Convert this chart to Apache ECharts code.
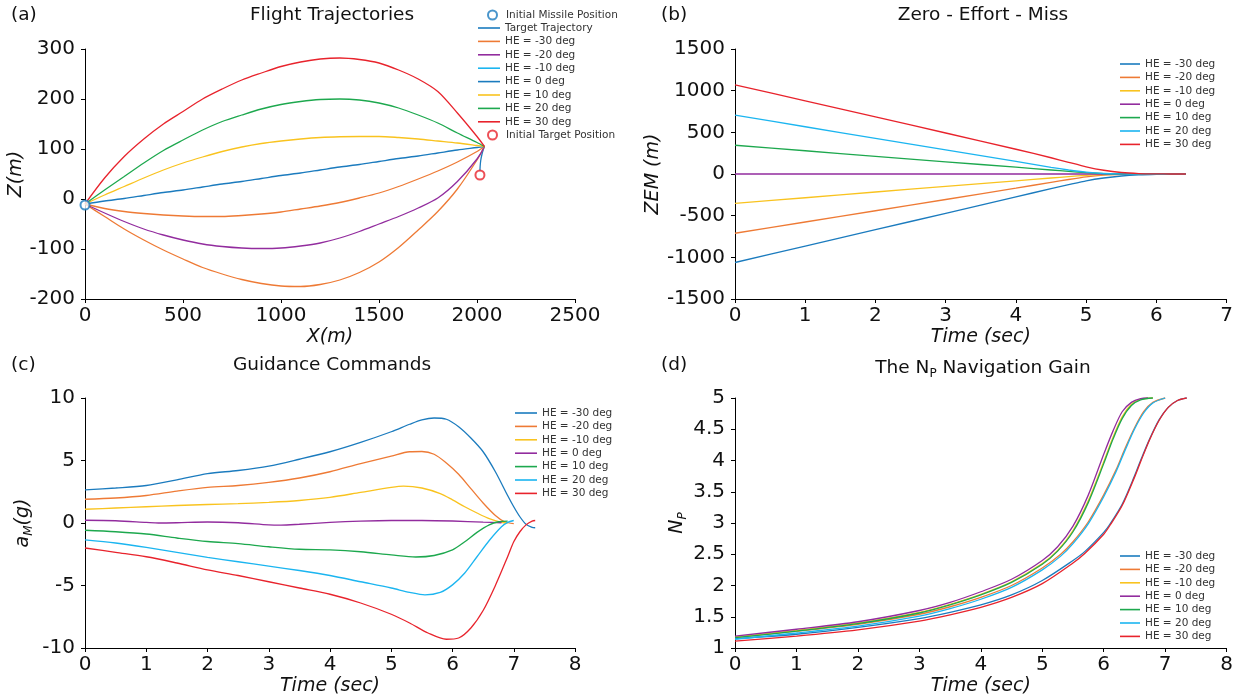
<!DOCTYPE html>
<html><head><meta charset="utf-8">
<script src="https://cdn.jsdelivr.net/npm/echarts@6/dist/echarts.min.js"></script>
<style>html,body{margin:0;padding:0;background:#fff}#c{width:1236px;height:700px}</style>
</head><body><div id="c"></div>
<script>
// ---------- Colours ----------
const BLUE='#1B7BBE', ORANGE='#EE7A35', YELLOW='#F9C31F', PURPLE='#922C9E', GREEN='#1DA84E', LBLUE='#1BB5F0', RED='#E8232C';

const heNames = ['HE = -30 deg','HE = -20 deg','HE = -10 deg','HE = 0 deg','HE = 10 deg','HE = 20 deg','HE = 30 deg'];

// ---------- (a) Flight Trajectories ----------
const trajX   = [0,100,200,300,400,500,600,700,800,900,1000,1100,1200,1300,1400,1500,1600,1700,1800,1900,2000,2038];
const zHEm30  = [-10,-35,-60,-82,-102,-120,-137,-150,-161,-169,-174,-175,-171,-162,-147,-126,-97,-62,-25,20,78,105];
const zHEm20  = [-10,-28,-45,-60,-72,-82,-90,-95,-98,-99,-98,-94,-88,-78,-65,-50,-35,-18,2,35,80,105];
const zHEm10  = [-10,-19,-25,-29,-32,-34,-35,-35,-33,-30,-26,-20,-14,-7,2,12,25,40,56,74,95,105];
const zHE0    = [-10,-4,1,7,13,18,24,30,35,41,47,52,58,64,69,75,81,86,92,98,103,105];
const zHE10   = [-10,8,25,42,58,72,84,95,104,111,116,120,123,124.5,125,125,123,120,116,112,107,105];
const zHE20   = [-10,18,45,72,97,118,138,155,168,180,189,195,199,200,198,192,182,168,152,132,113,105];
const zHE30   = [-10,42,85,120,150,175,200,220,238,252,265,274,280,282,279,272,258,240,215,172,125,105];
const targetX = [2015,2016,2019,2025,2033,2038];
const targetZ = [55,65,77,89,100,105];
const missileStart = [0,-12];
const targetStart  = [2015,48];
const legendA = ['Target Trajectory'].concat(heNames);
const legendAColors = [BLUE, ORANGE, PURPLE, LBLUE, BLUE, YELLOW, GREEN, RED];

// ---------- (b) Zero-Effort-Miss ----------
const tB      = [0,1,2,3,4,4.5,4.75,5,5.25,5.5,5.75,6,6.2,6.42];
const zemM30  = [-1062,-865,-668,-472,-275,-175,-128,-82,-48,-24,-10,-3,-1,0];
const zemM20  = [-711,-576,-441,-306,-170,-100,-66,-35,-14,-4,-1,0,0,0];
const zemM10  = [-353,-285,-216,-148,-82,-48,-31,-16,-6,-1,0,0,0,0];
const zem0    = [0,0,0,0,0,0,0,0,0,0,0,0,0,0];
const zem10   = [345,279,212,146,82,48,31,16,5,1,0,0,0,0];
const zem20   = [707,567,428,290,152,80,48,22,6,1,0,0,0,0];
const zem30   = [1070,878,685,492,297,195,140,86,45,18,5,1,0,0];
const colorsB = [BLUE, ORANGE, YELLOW, PURPLE, GREEN, LBLUE, RED];

// ---------- (c) Guidance Commands ----------
const tCm30 = [0,0.5,1,1.5,2,2.5,3,3.5,4,4.5,5,5.3,5.5,5.7,5.9,6.1,6.3,6.5,6.7,6.9,7.0,7.1,7.2,7.3,7.35];
const aCm30 = [2.65,2.8,3.0,3.45,3.95,4.2,4.55,5.1,5.7,6.45,7.3,7.9,8.25,8.4,8.3,7.7,6.8,5.7,4.1,2.2,1.3,0.5,-0.1,-0.35,-0.38];
const tCm20 = [0,0.5,1,1.5,2,2.5,3,3.5,4,4.5,5,5.3,5.5,5.7,5.9,6.1,6.3,6.5,6.7,6.85,7.0];
const aCm20 = [1.9,2.0,2.2,2.55,2.85,3.0,3.25,3.6,4.1,4.75,5.35,5.7,5.72,5.5,4.8,3.9,2.75,1.6,0.6,0.1,-0.05];
const tCm10 = [0,0.5,1,1.5,2,2.5,3,3.5,4,4.5,5,5.2,5.5,5.8,6,6.2,6.4,6.6,6.8,6.9];
const aCm10 = [1.1,1.2,1.3,1.4,1.48,1.55,1.65,1.8,2.05,2.45,2.85,2.95,2.8,2.35,1.85,1.3,0.8,0.35,0.05,0];
const tC0   = [0,0.5,1,1.2,1.5,2,2.5,3,3.2,3.5,4,4.5,5,5.5,6,6.5,6.8];
const aC0   = [0.22,0.18,0.05,0.0,0.02,0.08,0.02,-0.15,-0.17,-0.1,0.05,0.15,0.2,0.2,0.16,0.07,0.02];
const tC10  = [0,0.5,1,1.5,2,2.5,3,3.5,4,4.5,5,5.4,5.7,6,6.2,6.4,6.6,6.75,6.9];
const aC10  = [-0.58,-0.7,-0.88,-1.2,-1.48,-1.65,-1.9,-2.1,-2.15,-2.3,-2.55,-2.72,-2.6,-2.15,-1.5,-0.75,-0.15,0.1,0.15];
const tC20  = [0,0.5,1,1.5,2,2.5,3,3.5,4,4.5,5,5.3,5.55,5.8,6,6.2,6.4,6.6,6.8,6.9,7.0];
const aC20  = [-1.35,-1.6,-1.95,-2.35,-2.75,-3.1,-3.45,-3.8,-4.2,-4.7,-5.2,-5.55,-5.75,-5.55,-4.95,-4.0,-2.7,-1.4,-0.3,0.05,0.2];
const tC30  = [0,0.5,1,1.5,2,2.5,3,3.5,4,4.5,5,5.3,5.6,5.9,6.1,6.3,6.5,6.7,6.9,7.0,7.1,7.2,7.3,7.35];
const aC30  = [-2.0,-2.35,-2.7,-3.2,-3.75,-4.2,-4.7,-5.2,-5.7,-6.4,-7.3,-8.0,-8.8,-9.3,-9.2,-8.4,-7.0,-5.0,-2.7,-1.5,-0.7,-0.15,0.15,0.2];

// ---------- (d) Navigation gain ----------
const tDm30 = [0,1,2,3,3.5,4,4.5,5,5.5,5.7,6,6.1,6.3,6.5,6.6,6.75,6.9,7.05,7.2,7.35];
const nDm30 = [1.15,1.22,1.33,1.47,1.57,1.69,1.85,2.08,2.4,2.55,2.85,2.98,3.3,3.75,4.0,4.35,4.65,4.85,4.96,5.0];
const tDm20 = [0,1,2,3,3.5,4,4.5,5,5.3,5.5,5.75,6,6.2,6.35,6.5,6.65,6.8,7.0];
const nDm20 = [1.17,1.27,1.38,1.54,1.66,1.81,2.0,2.28,2.5,2.7,3.02,3.45,3.85,4.2,4.52,4.78,4.93,5.0];
const tDm10 = [0,1,2,3,3.5,4,4.5,5,5.25,5.5,5.75,6,6.15,6.3,6.45,6.6,6.8];
const nDm10 = [1.175,1.28,1.40,1.57,1.70,1.86,2.06,2.35,2.56,2.88,3.36,3.98,4.37,4.7,4.9,4.98,5.0];
const tD0   = [0,1,2,3,3.5,4,4.5,5,5.25,5.5,5.75,6,6.15,6.3,6.45,6.6,6.72];
const nD0   = [1.19,1.3,1.42,1.6,1.73,1.9,2.1,2.4,2.62,2.95,3.45,4.1,4.47,4.78,4.93,4.99,5.0];
const tD10  = [0,1,2,3,3.5,4,4.5,5,5.25,5.5,5.75,6,6.15,6.3,6.45,6.6,6.8];
const nD10  = [1.165,1.27,1.39,1.56,1.69,1.85,2.05,2.34,2.55,2.86,3.33,3.95,4.34,4.67,4.88,4.97,5.0];
const tD20  = [0,1,2,3,3.5,4,4.5,5,5.3,5.5,5.75,6,6.2,6.35,6.5,6.65,6.8,7.0];
const nD20  = [1.14,1.24,1.35,1.51,1.63,1.78,1.97,2.25,2.47,2.67,2.99,3.42,3.82,4.17,4.5,4.76,4.92,5.0];
const tD30  = [0,1,2,3,3.5,4,4.5,5,5.5,5.7,6,6.1,6.3,6.5,6.6,6.75,6.9,7.05,7.2,7.35];
const nD30  = [1.11,1.19,1.29,1.43,1.53,1.65,1.81,2.03,2.36,2.52,2.82,2.96,3.28,3.73,3.98,4.34,4.64,4.85,4.96,5.0];

// ---------- build ----------
const FONT = 'DejaVu Sans';
const zip = (xs, ys) => xs.map((x, i) => [x, ys[i]]);

function lineSeries(name, color, xs, ys, idx, smooth) {
  return { type:'line', name, xAxisIndex:idx, yAxisIndex:idx, data:zip(xs, ys),
    symbol:'none', smooth: smooth, lineStyle:{color, width:1.3}, itemStyle:{color}, clip:false, z:3 };
}
function axis(idx, min, max, interval, name, nameGap, isX) {
  return { type:'value', gridIndex:idx, min, max, interval, name, nameLocation:'middle', nameGap,
    axisLine:{show:true, onZero:false, lineStyle:{color:'#000', width:1}},
    axisTick:{show:true, inside:false, length:4, lineStyle:{color:'#000'}},
    splitLine:{show:false},
    axisLabel:{color:'#111', fontSize:20, fontFamily:FONT, margin: isX ? 7 : 10, formatter: v => String(v)},
    nameTextStyle:{color:'#111', fontSize:19, fontFamily:FONT, fontStyle:'italic'} };
}
function legendItems(names, colors) {
  return names.map((n, i) => ({ name:n, itemStyle:{color:colors[i], borderWidth:0}, lineStyle:{color:colors[i]} }));
}
const legendBase = { orient:'vertical', padding:0, itemGap:0.4, itemWidth:22, itemHeight:1.6, icon:'rect', selectedMode:false,
  textStyle:{fontFamily:FONT, fontSize:10.5, color:'#333', lineHeight:13} };
const circleLegendText = {fontFamily:FONT, fontSize:10.5, color:'#333', lineHeight:13, padding:[0,0,0,4]};

const series = [];
// (a)
const zA = [zHEm30, zHEm20, zHEm10, zHE0, zHE10, zHE20, zHE30];
const colorsA = [ORANGE, PURPLE, ORANGE, BLUE, YELLOW, GREEN, RED];
series.push(lineSeries('Target Trajectory', BLUE, targetX, targetZ, 0, 0.3));
zA.forEach((z, i) => series.push(lineSeries(heNames[i], colorsA[i], trajX, z, 0, 0.3)));
series.push({ type:'scatter', name:'Initial Missile Position', xAxisIndex:0, yAxisIndex:0, data:[missileStart],
  symbol:'emptyCircle', symbolSize:9, itemStyle:{color:BLUE, borderColor:BLUE, borderWidth:1.3}, clip:false, z:4 });
series.push({ type:'scatter', name:'Initial Target Position', xAxisIndex:0, yAxisIndex:0, data:[targetStart],
  symbol:'emptyCircle', symbolSize:9, itemStyle:{color:RED, borderColor:RED, borderWidth:1.3}, clip:false, z:4 });
// (b)
[zemM30, zemM20, zemM10, zem0, zem10, zem20, zem30].forEach((z, i) => series.push(lineSeries(heNames[i], colorsB[i], tB, z, 1, 0.2)));
// (c)
const cT = [tCm30, tCm20, tCm10, tC0, tC10, tC20, tC30];
const cA = [aCm30, aCm20, aCm10, aC0, aC10, aC20, aC30];
cT.forEach((t, i) => series.push(lineSeries(heNames[i], colorsB[i], t, cA[i], 2, 0.3)));
// (d)
const dT = [tDm30, tDm20, tDm10, tD0, tD10, tD20, tD30];
const dN = [nDm30, nDm20, nDm10, nD0, nD10, nD20, nD30];
dT.forEach((t, i) => series.push(lineSeries(heNames[i], colorsB[i], t, dN[i], 3, 0.3)));

const titleStyle = {fontFamily:FONT, fontSize:18.5, fontWeight:'normal', color:'#111'};
const option = {
  animation:false,
  backgroundColor:'#fff',
  title: [
    {text:'(a)', left:11, top:6, padding:0, textStyle:titleStyle},
    {text:'Flight Trajectories', left:332, top:6, padding:0, textAlign:'center', textStyle:titleStyle},
    {text:'(b)', left:661, top:6, padding:0, textStyle:titleStyle},
    {text:'Zero - Effort - Miss', left:983, top:6, padding:0, textAlign:'center', textStyle:titleStyle},
    {text:'(c)', left:11, top:356, padding:0, textStyle:titleStyle},
    {text:'Guidance Commands', left:332, top:356, padding:0, textAlign:'center', textStyle:titleStyle},
    {text:'(d)', left:661, top:356, padding:0, textStyle:titleStyle},
    {text:'{n|The N}{s|P}{n| Navigation Gain}', left:983, top:356, padding:0, textAlign:'center',
      textStyle:Object.assign({}, titleStyle, {rich:{
        n:{fontFamily:FONT, fontSize:18.5, color:'#111', lineHeight:24, verticalAlign:'middle'},
        s:{fontFamily:FONT, fontSize:12, color:'#111', lineHeight:12, verticalAlign:'bottom'}}})}
  ],
  grid: [
    {left:85, top:49, width:490, height:250},
    {left:735, top:49, width:492, height:250},
    {left:85, top:398, width:490, height:250},
    {left:735, top:398, width:492, height:250}
  ],
  xAxis: [
    axis(0, 0, 2500, 500, 'X(m)', 29, true),
    axis(1, 0, 7, 1, 'Time (sec)', 29, true),
    axis(2, 0, 8, 1, 'Time (sec)', 29, true),
    axis(3, 0, 8, 1, 'Time (sec)', 29, true)
  ],
  yAxis: [
    axis(0, -200, 300, 100, 'Z(m)', 48, false),
    axis(1, -1500, 1500, 500, 'ZEM (m)', 64, false),
    Object.assign(axis(2, -10, 10, 5, '{i|a}{s|M}{i|(g)}', 50, false), {nameTextStyle:{rich:{
        i:{fontFamily:FONT, fontSize:19, fontStyle:'italic', color:'#111', lineHeight:24, verticalAlign:'middle'},
        s:{fontFamily:FONT, fontSize:12, fontStyle:'italic', color:'#111', lineHeight:12, verticalAlign:'bottom'}}}}),
    Object.assign(axis(3, 1, 5, 0.5, '{i|N}{s|P}', 43, false), {nameTextStyle:{rich:{
        i:{fontFamily:FONT, fontSize:19, fontStyle:'italic', color:'#111', lineHeight:24, verticalAlign:'middle'},
        s:{fontFamily:FONT, fontSize:12, fontStyle:'italic', color:'#111', lineHeight:12, verticalAlign:'bottom'}}}})
  ],
  legend: [
    Object.assign({}, legendBase, {left:487, top:8.5, itemWidth:9, itemHeight:9, icon:'emptyCircle', textStyle:circleLegendText,
      data:[{name:'Initial Missile Position', itemStyle:{color:BLUE, borderColor:BLUE, borderWidth:1.3}}]}),
    Object.assign({}, legendBase, {left:478, top:21.5, data:legendItems(legendA, legendAColors)}),
    Object.assign({}, legendBase, {left:487, top:128.5, itemWidth:9, itemHeight:9, icon:'emptyCircle', textStyle:circleLegendText,
      data:[{name:'Initial Target Position', itemStyle:{color:RED, borderColor:RED, borderWidth:1.3}}]}),
    Object.assign({}, legendBase, {left:1120, top:57.5, itemWidth:20, data:legendItems(heNames, colorsB)}),
    Object.assign({}, legendBase, {left:515, top:406.5, data:legendItems(heNames, colorsB)}),
    Object.assign({}, legendBase, {left:1120, top:549.5, itemWidth:20, data:legendItems(heNames, colorsB)})
  ],
  series
};
const chart = echarts.init(document.getElementById('c'));
chart.setOption(option);
</script>
</body></html>
